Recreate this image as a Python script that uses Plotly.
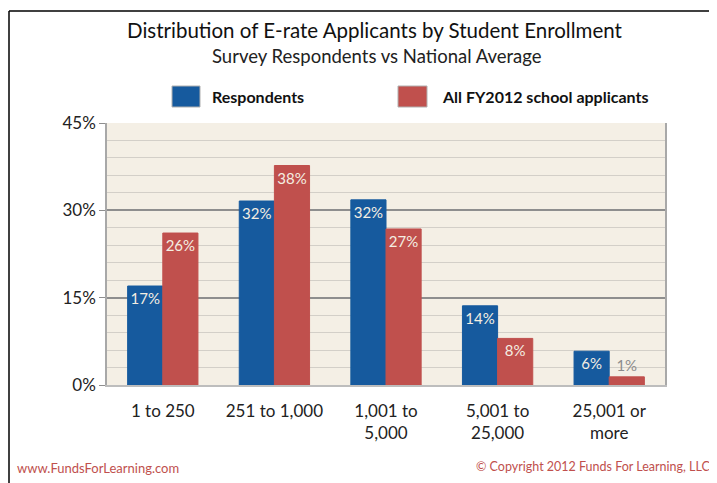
import plotly.graph_objects as go

categories = ["1 to 250", "251 to 1,000", "1,001 to<br>5,000", "5,001 to<br>25,000", "25,001 or<br>more"]
respondents = [17.0, 31.6, 31.8, 13.6, 5.8]
all_fy2012 = [26.1, 37.7, 26.8, 8.0, 1.4]
series_names = ["Respondents", "All FY2012 school applicants"]
title = "Distribution of E-rate Applicants by Student Enrollment"
subtitle = "Survey Respondents vs National Average"
footer_left = "www.FundsForLearning.com"
footer_right = "© Copyright 2012 Funds For Learning, LLC"

BLUE = "#165A9E"
RED = "#C0504D"
LABEL = "#F4EEE2"
FONT = "Lato, 'Open Sans', sans-serif"

OFF = 8  # page body margin
W, H = 717 - OFF, 483 - OFF
# reference-pixel coordinates of the plot area
L, R, T, B = 107, 665, 123, 385

def px(x):
    return (x - L) / (R - L)

def py(y):
    return (B - y) / (B - T)

def lbl(vals):
    return [f"{round(v)}%" for v in vals]

def positions(vals):
    return ["outside" if v < 3 else "inside" for v in vals]

def colors(vals):
    return ["#8C8C8C" if v < 3 else LABEL for v in vals]

fig = go.Figure()
for name, vals, col in [(series_names[0], respondents, BLUE), (series_names[1], all_fy2012, RED)]:
    fig.add_trace(go.Bar(
        x=categories, y=vals, name=name,
        marker=dict(color=col, line=dict(color=col, width=1)),
        text=lbl(vals), textposition=positions(vals),
        insidetextanchor="end", textangle=0, constraintext="none",
        textfont=dict(color=colors(vals), size=15, family=FONT),
        cliponaxis=False,
    ))

fig.update_layout(
    width=W, height=H,
    margin=dict(l=L - OFF, r=717 - R, t=T - OFF, b=483 - B),
    paper_bgcolor="white", plot_bgcolor="#F4EFE5",
    barmode="group", bargap=0.37, bargroupgap=0,
    showlegend=False,
    font=dict(family=FONT, color="#222222"),
)
fig.update_yaxes(
    range=[0, 45], dtick=15, ticksuffix="%",
    tickfont=dict(size=17, color="#222222"),
    gridcolor="#8E8E8E", gridwidth=1.5,
    minor=dict(dtick=3, gridcolor="#D3CFC8", gridwidth=1, showgrid=True),
    showline=True, linecolor="#A8A8A8", linewidth=1.5, mirror=True,
    ticks="outside", ticklen=6, tickcolor="#8E8E8E",
    zeroline=False, fixedrange=True,
)
fig.update_xaxes(
    tickfont=dict(size=17, color="#222222"),
    showline=True, linecolor="#BDBDBD", linewidth=1.5,
    ticks="", ticklabelstandoff=10,
)

# Outer black frame (top and left edges)
fig.add_shape(type="line", xref="paper", yref="paper",
              x0=px(9), y0=py(490), x1=px(9), y1=py(11),
              line=dict(color="black", width=1.5))
fig.add_shape(type="line", xref="paper", yref="paper",
              x0=px(9), y0=py(11), x1=px(725), y1=py(11),
              line=dict(color="black", width=1.5))

# Title and subtitle
fig.add_annotation(text=title, xref="paper", yref="paper", x=px(375), y=py(30),
                   showarrow=False, xanchor="center", yanchor="middle",
                   font=dict(size=20.5, color="#111111", family=FONT))
fig.add_annotation(text=subtitle, xref="paper", yref="paper", x=px(377), y=py(56),
                   showarrow=False, xanchor="center", yanchor="middle",
                   font=dict(size=18.5, color="#222222", family=FONT))

# Legend (manual)
for (x0, x1, tx), name, col in [((172, 200, 210), series_names[0], BLUE),
                                ((398, 427, 440), series_names[1], RED)]:
    fig.add_shape(type="rect", xref="paper", yref="paper",
                  x0=px(x0), x1=px(x1), y0=py(107), y1=py(86),
                  fillcolor=col, line=dict(color="#B0B0B0", width=1))
    fig.add_annotation(text=f"<b>{name}</b>", xref="paper", yref="paper",
                       x=px(tx), y=py(97), showarrow=False,
                       xanchor="left", yanchor="middle",
                       font=dict(size=16, color="#111111", family=FONT))

# Footer
fig.add_annotation(text=footer_left, xref="paper", yref="paper", x=px(15), y=py(468),
                   showarrow=False, xanchor="left", yanchor="middle",
                   font=dict(size=13, color="#C0504D", family=FONT))
fig.add_annotation(text=footer_right, xref="paper", yref="paper", x=px(712), y=py(466),
                   showarrow=False, xanchor="right", yanchor="middle",
                   font=dict(size=12.5, color="#C0504D", family=FONT))

fig.write_html("out.html")
